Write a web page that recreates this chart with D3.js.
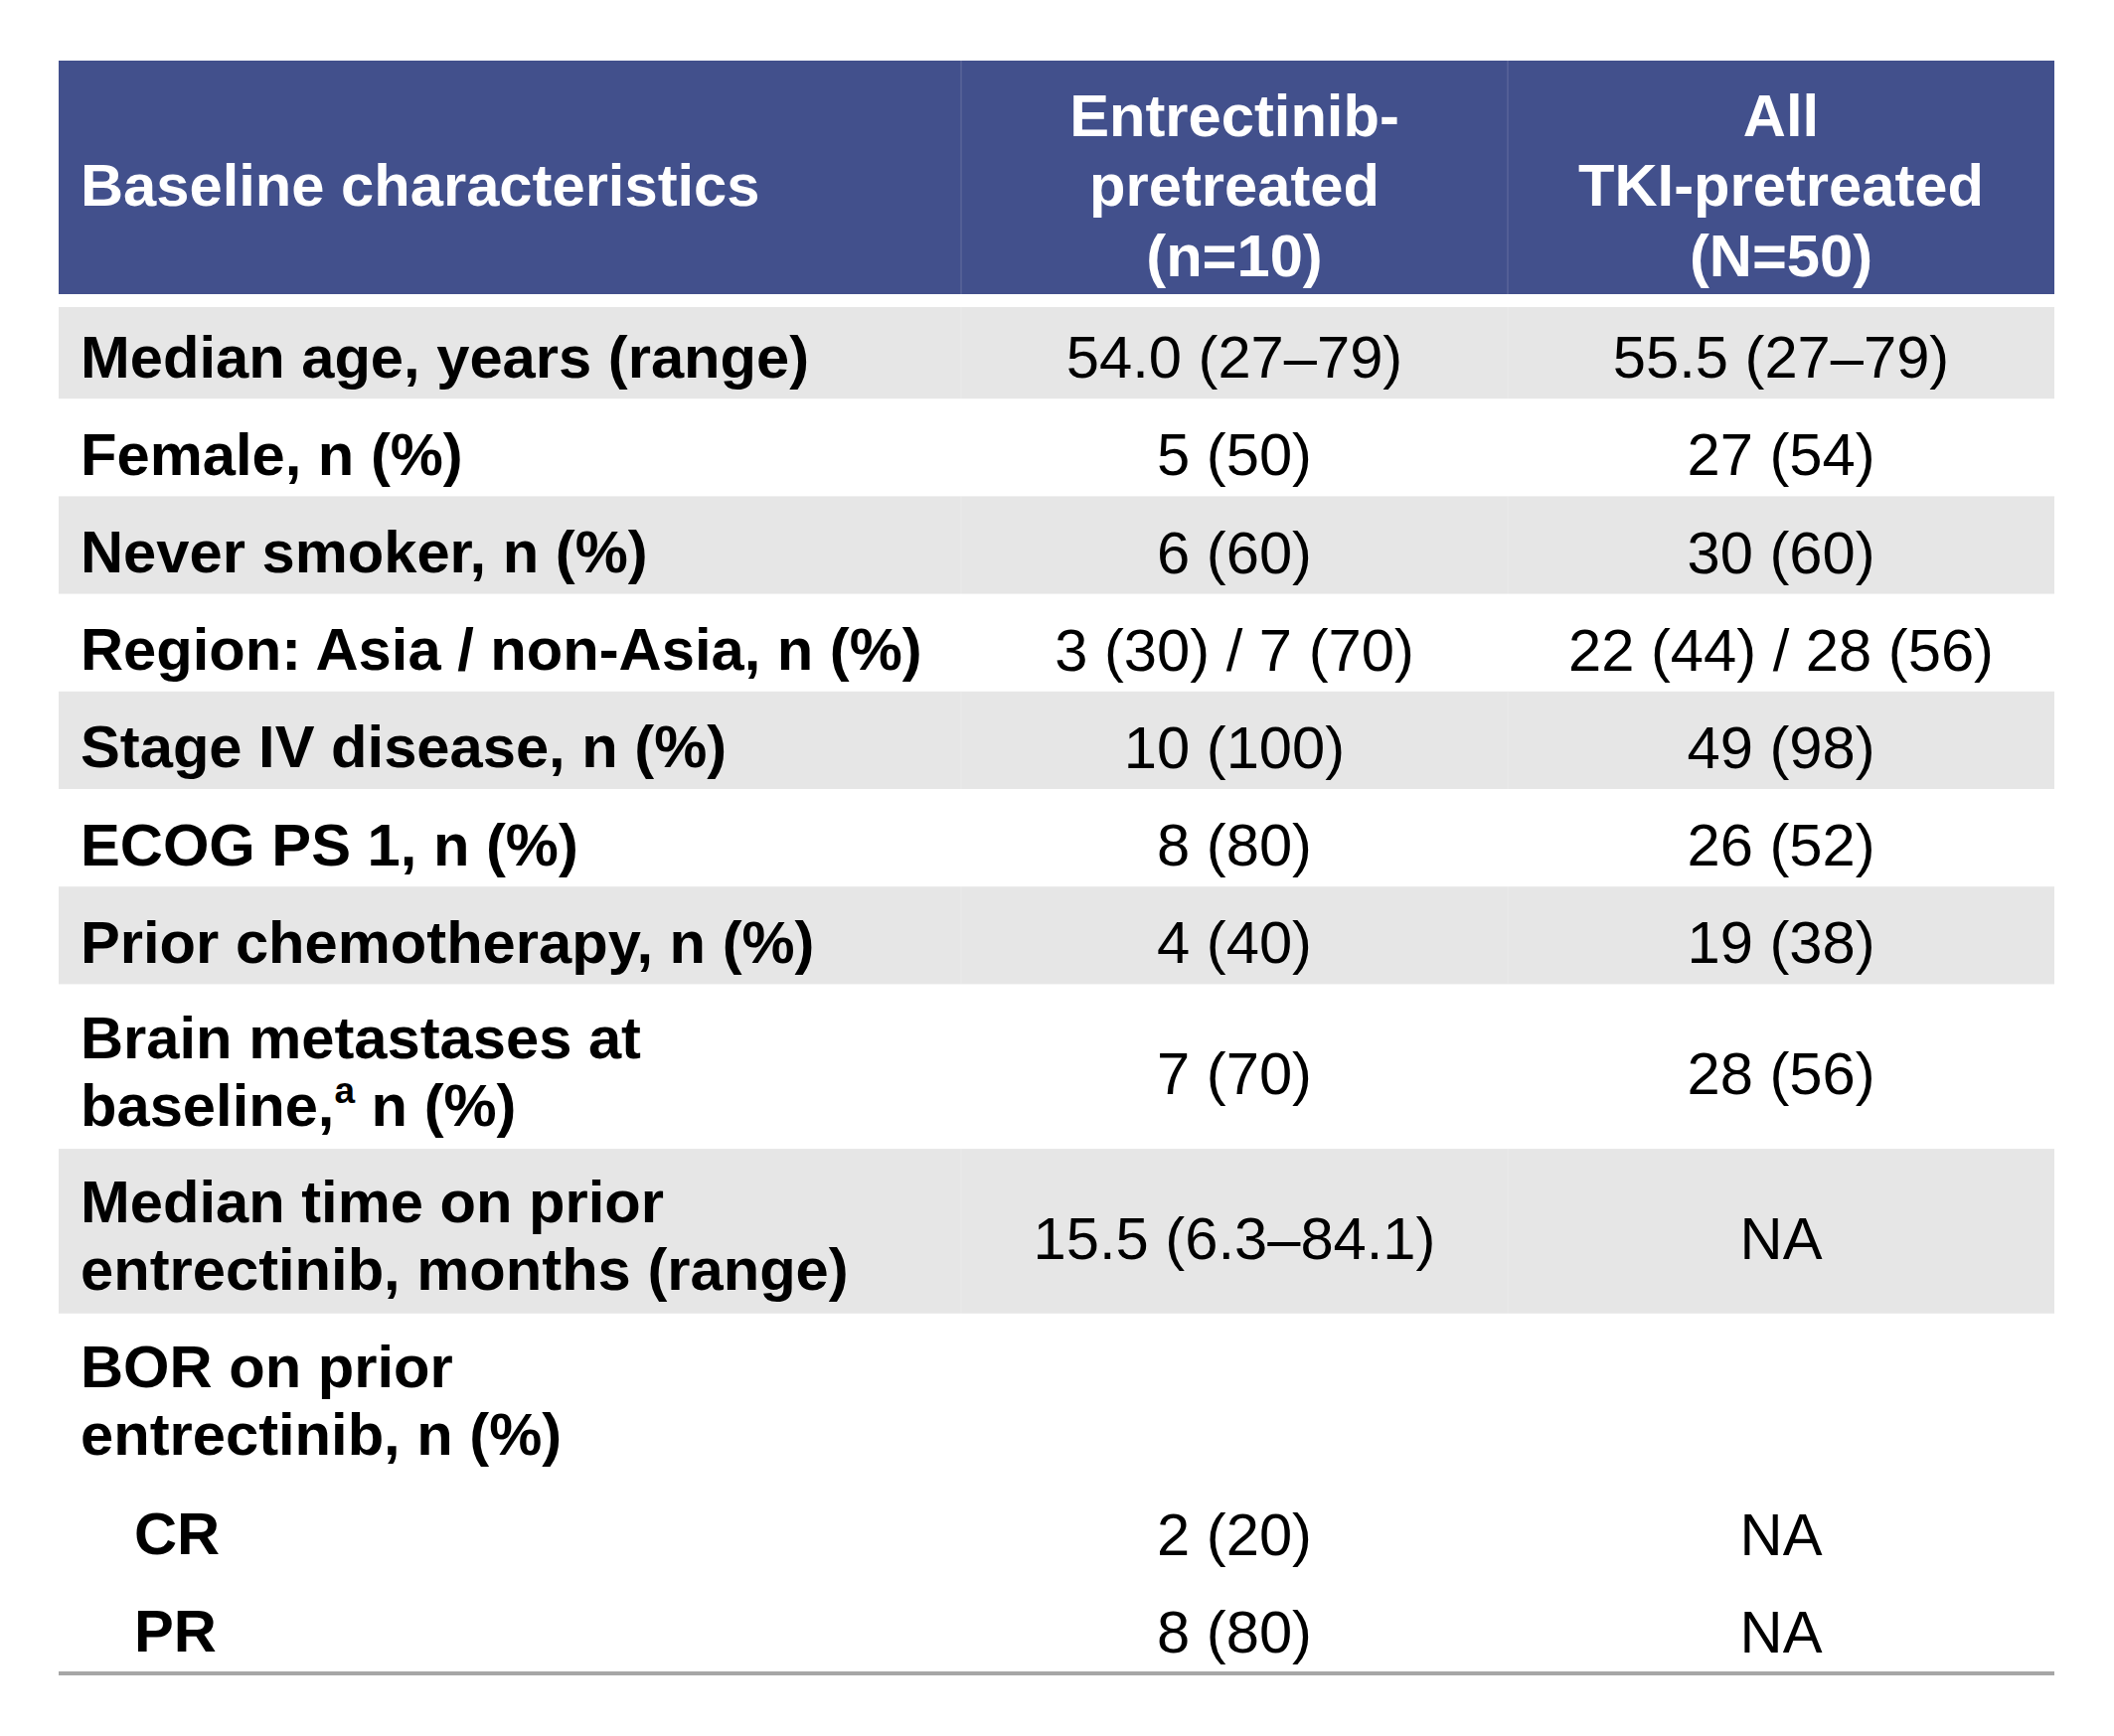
<!DOCTYPE html>
<html>
<head>
<meta charset="utf-8">
<script src="https://cdn.jsdelivr.net/npm/d3@7"></script>
<style>
  html, body { margin: 0; padding: 0; background: #fff; }
  svg { display: block; }
  text { font-family: "Liberation Sans", Arial, sans-serif; }
</style>
</head>
<body>
<svg></svg>
<script>
const width = 2127;
const height = 1747;

// table content
const headerLabels = [
    ["Baseline characteristics"],
    ["Entrectinib-", "pretreated", "(n=10)"],
    ["All", "TKI-pretreated", "(N=50)"]
];
const characteristics = [
    ["Median age, years (range)"],
    ["Female, n (%)"],
    ["Never smoker, n (%)"],
    ["Region: Asia / non-Asia, n (%)"],
    ["Stage IV disease, n (%)"],
    ["ECOG PS 1, n (%)"],
    ["Prior chemotherapy, n (%)"],
    ["Brain metastases at", "baseline,{a} n (%)"],
    ["Median time on prior", "entrectinib, months (range)"],
    ["BOR on prior", "entrectinib, n (%)"],
    ["CR"],
    ["PR"]
];
const entrectinibValues = ["54.0 (27–79)", "5 (50)", "6 (60)", "3 (30) / 7 (70)", "10 (100)", "8 (80)", "4 (40)", "7 (70)", "15.5 (6.3–84.1)", "", "2 (20)", "8 (80)"];
const allTkiValues = ["55.5 (27–79)", "27 (54)", "30 (60)", "22 (44) / 28 (56)", "49 (98)", "26 (52)", "19 (38)", "28 (56)", "NA", "", "NA", "NA"];
const subItems = ["CR", "PR"];

let svg = d3.select("svg").attr("width", width).attr("height", height);

const left = 59, right = 2067;
const headTop = 61, headBottom = 296, bodyTop = 303;
const fontSize = 59.7;
const rowBase = 98.2, lineStep = 67.5;
const textLeft = 81, subLeft = 135;

// column edges
const colKeys = ["label", "entrectinib", "all"];
const colLeft = d3.scaleOrdinal().domain(colKeys).range([left, 967, 1517]);
const colRight = d3.scaleOrdinal().domain(colKeys).range([967, 1517, right]);
const colMid = k => (colLeft(k) + colRight(k)) / 2;

// rows: heights depend on number of text lines
const rows = characteristics.map((lines, i) => ({
    lines: lines,
    sub: subItems.includes(lines[0]),
    values: [entrectinibValues[i], allTkiValues[i]]
}));
const heights = rows.map(r => rowBase + (r.lines.length - 1) * lineStep);
const tops = [0, ...d3.cumsum(heights)];
const y = d3.scaleLinear().domain([0, d3.sum(heights)]).range([bodyTop, bodyTop + d3.sum(heights)]);

// shading groups (sub items share their parent's shading)
let group = -1;
rows.forEach(r => { if (!r.sub) group++; r.group = group; });

rows.forEach((r, i) => {
    r.top = y(tops[i]);
    r.bottom = y(tops[i + 1]);
});

// row backgrounds
svg.append("g").selectAll("rect")
    .data(rows.filter(r => r.group % 2 === 0))
    .join("rect")
    .attr("x", left).attr("width", right - left)
    .attr("y", d => d.top).attr("height", d => d.bottom - d.top)
    .attr("fill", "#e6e6e6");

// header
svg.append("rect")
    .attr("x", left).attr("y", headTop)
    .attr("width", right - left).attr("height", headBottom - headTop)
    .attr("fill", "#42508c");
svg.append("rect")
    .attr("x", left).attr("y", headBottom)
    .attr("width", right - left).attr("height", 13)
    .attr("fill", "#fff");

// faint column separators
svg.append("g").selectAll("line")
    .data(["entrectinib", "all"])
    .join("line")
    .attr("x1", d => colLeft(d)).attr("x2", d => colLeft(d))
    .attr("y1", headTop).attr("y2", rows[rows.length - 1].bottom)
    .attr("stroke", "#ffffff").attr("stroke-opacity", 0.12).attr("stroke-width", 1.5);

// header text
const headCenter = (headTop + headBottom) / 2;
const headStep = 70.5;
headerLabels.forEach((lines, c) => {
    const key = colKeys[c];
    const t = svg.append("text")
        .attr("fill", "#fff")
        .attr("font-weight", "bold")
        .attr("font-size", fontSize)
        .attr("text-anchor", c === 0 ? "start" : "middle");
    lines.forEach((line, j) => {
        t.append("tspan")
            .attr("x", c === 0 ? textLeft : colMid(key))
            .attr("y", headCenter + 28.5 + (j - (lines.length - 1) / 2) * headStep)
            .text(line);
    });
});

// body label text
const labelG = svg.append("g");
rows.forEach(r => {
    const mid = (r.top + r.bottom) / 2;
    const t = labelG.append("text")
        .attr("font-weight", "bold")
        .attr("font-size", fontSize)
        .attr("fill", "#000");
    r.lines.forEach((line, j) => {
        const ly = mid + (r.lines.length > 1 ? 25.5 : 27.5) + (j - (r.lines.length - 1) / 2) * 68;
        const parts = line.split(/\{(\w+)\}/);
        parts.forEach((p, k) => {
            const sp = t.append("tspan").text(p);
            if (k === 0) sp.attr("x", r.sub ? subLeft : textLeft).attr("y", ly);
            if (k % 2 === 1) sp.attr("font-size", fontSize * 0.62).attr("dy", -23);
            else if (k > 0) sp.attr("dy", 23);
        });
    });
});

// body values
const valG = svg.append("g");
rows.forEach(r => {
    const mid = (r.top + r.bottom) / 2;
    ["entrectinib", "all"].forEach((key, c) => {
        if (!r.values[c]) return;
        valG.append("text")
            .attr("x", colMid(key))
            .attr("y", mid + 28)
            .attr("text-anchor", "middle")
            .attr("font-size", fontSize)
            .attr("fill", "#000")
            .text(r.values[c]);
    });
});

// bottom rule
svg.append("line")
    .attr("x1", left).attr("x2", right)
    .attr("y1", rows[rows.length - 1].bottom).attr("y2", rows[rows.length - 1].bottom)
    .attr("stroke", "#a6a6a6").attr("stroke-width", 4);
</script>
</body>
</html>
